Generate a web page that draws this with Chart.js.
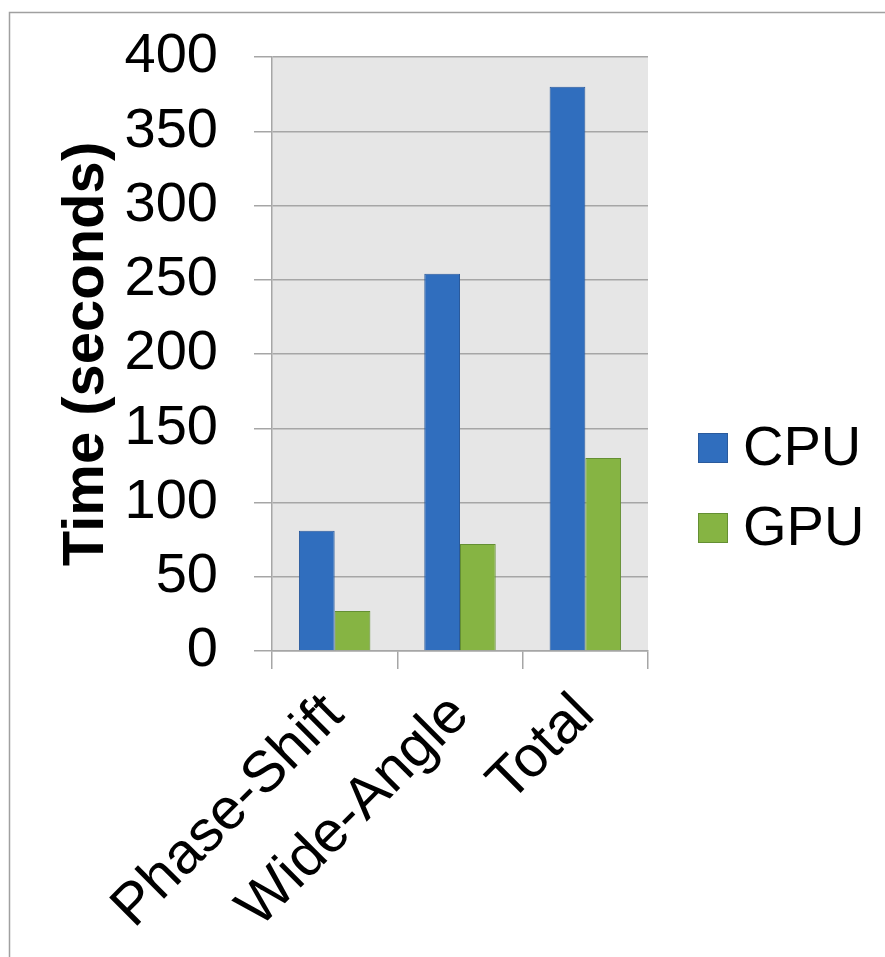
<!DOCTYPE html>
<html>
<head>
<meta charset="utf-8">
<title>CPU vs GPU time</title>
<script src="https://cdn.jsdelivr.net/npm/chart.js@4.4.0/dist/chart.umd.min.js"></script>
<style>
  body { margin: 0; background: #fff; }
  canvas { display: block; }
</style>
</head>
<body>
<canvas id="timeChart" width="885" height="957"></canvas>
<script>
// Run times per stage
const categories = ['Phase-Shift', 'Wide-Angle', 'Total'];
const cpuSeconds = [81, 254, 380];
const gpuSeconds = [27, 72, 130];
const yMax = 400;
const yStep = 50;

const FONT = "'Liberation Sans', Arial, sans-serif";
const GRID = '#a6a6a6';

// grey plot area plus the thin frame around the whole chart
const plotBackground = {
    id: 'plotBackground',
    beforeDraw(chart) {
        const { ctx, chartArea: a } = chart;
        ctx.save();
        ctx.fillStyle = '#e6e6e6';
        ctx.fillRect(a.left, a.top, a.right - a.left, a.bottom - a.top);
        ctx.strokeStyle = '#a0a0a0';
        ctx.lineWidth = 1.5;
        ctx.strokeRect(9.5, 12.5, 1000, 1000);
        ctx.restore();
    }
};

// legend to the right of the plot, square swatches
const sideLegend = {
    id: 'sideLegend',
    afterDraw(chart) {
        const { ctx, chartArea: a } = chart;
        const x = a.right + 50;
        const size = 30;
        const rowGap = 80;
        const midY = 488;
        const sets = chart.data.datasets;
        ctx.save();
        ctx.font = '56px ' + FONT;
        ctx.textBaseline = 'middle';
        ctx.textAlign = 'left';
        sets.forEach((ds, i) => {
            const cy = midY + (i - (sets.length - 1) / 2) * rowGap;
            ctx.fillStyle = ds.backgroundColor;
            ctx.fillRect(x, cy - size / 2, size, size);
            ctx.strokeStyle = ds.borderColor;
            ctx.lineWidth = 1;
            ctx.strokeRect(x + 0.5, cy - size / 2 + 0.5, size - 1, size - 1);
            ctx.fillStyle = '#000';
            ctx.fillText(ds.label, x + size + 15, cy + 2);
        });
        ctx.restore();
    }
};

const ctx = document.getElementById('timeChart').getContext('2d');
new Chart(ctx, {
    type: 'bar',
    data: {
        labels: categories,
        datasets: [{
            label: 'CPU',
            data: cpuSeconds,
            backgroundColor: '#306ebe',
            borderColor: '#2a5a9c',
            borderWidth: 1
        }, {
            label: 'GPU',
            data: gpuSeconds,
            backgroundColor: '#86b443',
            borderColor: '#648f33',
            borderWidth: 1
        }]
    },
    options: {
        responsive: false,
        animation: false,
        layout: { padding: { top: 57, left: 9, right: 237, bottom: 0 } },
        datasets: {
            bar: { categoryPercentage: 0.57, barPercentage: 1.0 }
        },
        plugins: {
            legend: { display: false },
            tooltip: { enabled: false }
        },
        scales: {
            x: {
                grid: {
                    offset: true,
                    drawOnChartArea: false,
                    drawTicks: true,
                    tickLength: 18,
                    color: GRID,
                    lineWidth: 1.5
                },
                border: { color: GRID, width: 1.5 },
                ticks: {
                    color: '#000',
                    font: { family: FONT, size: 58 },
                    minRotation: 45,
                    maxRotation: 45,
                    padding: 12
                },
                afterFit(scale) {
                    scale.height = 306;
                    scale.paddingTop = 0;
                }
            },
            y: {
                min: 0,
                max: yMax,
                ticks: {
                    stepSize: yStep,
                    color: '#000',
                    font: { family: FONT, size: 56 },
                    padding: 36
                },
                grid: {
                    color: GRID,
                    lineWidth: 1.5,
                    tickLength: 18
                },
                border: { color: GRID, width: 1.5 },
                title: {
                    display: true,
                    text: 'Time (seconds)',
                    color: '#000',
                    font: { family: FONT, size: 58, weight: 'bold' },
                    padding: { top: 43, bottom: 0 }
                },
                afterFit(scale) {
                    scale.width = 263;
                    scale.paddingTop = 0;
                    scale.paddingBottom = 0;
                }
            }
        }
    },
    plugins: [plotBackground, sideLegend]
});
</script>
</body>
</html>
